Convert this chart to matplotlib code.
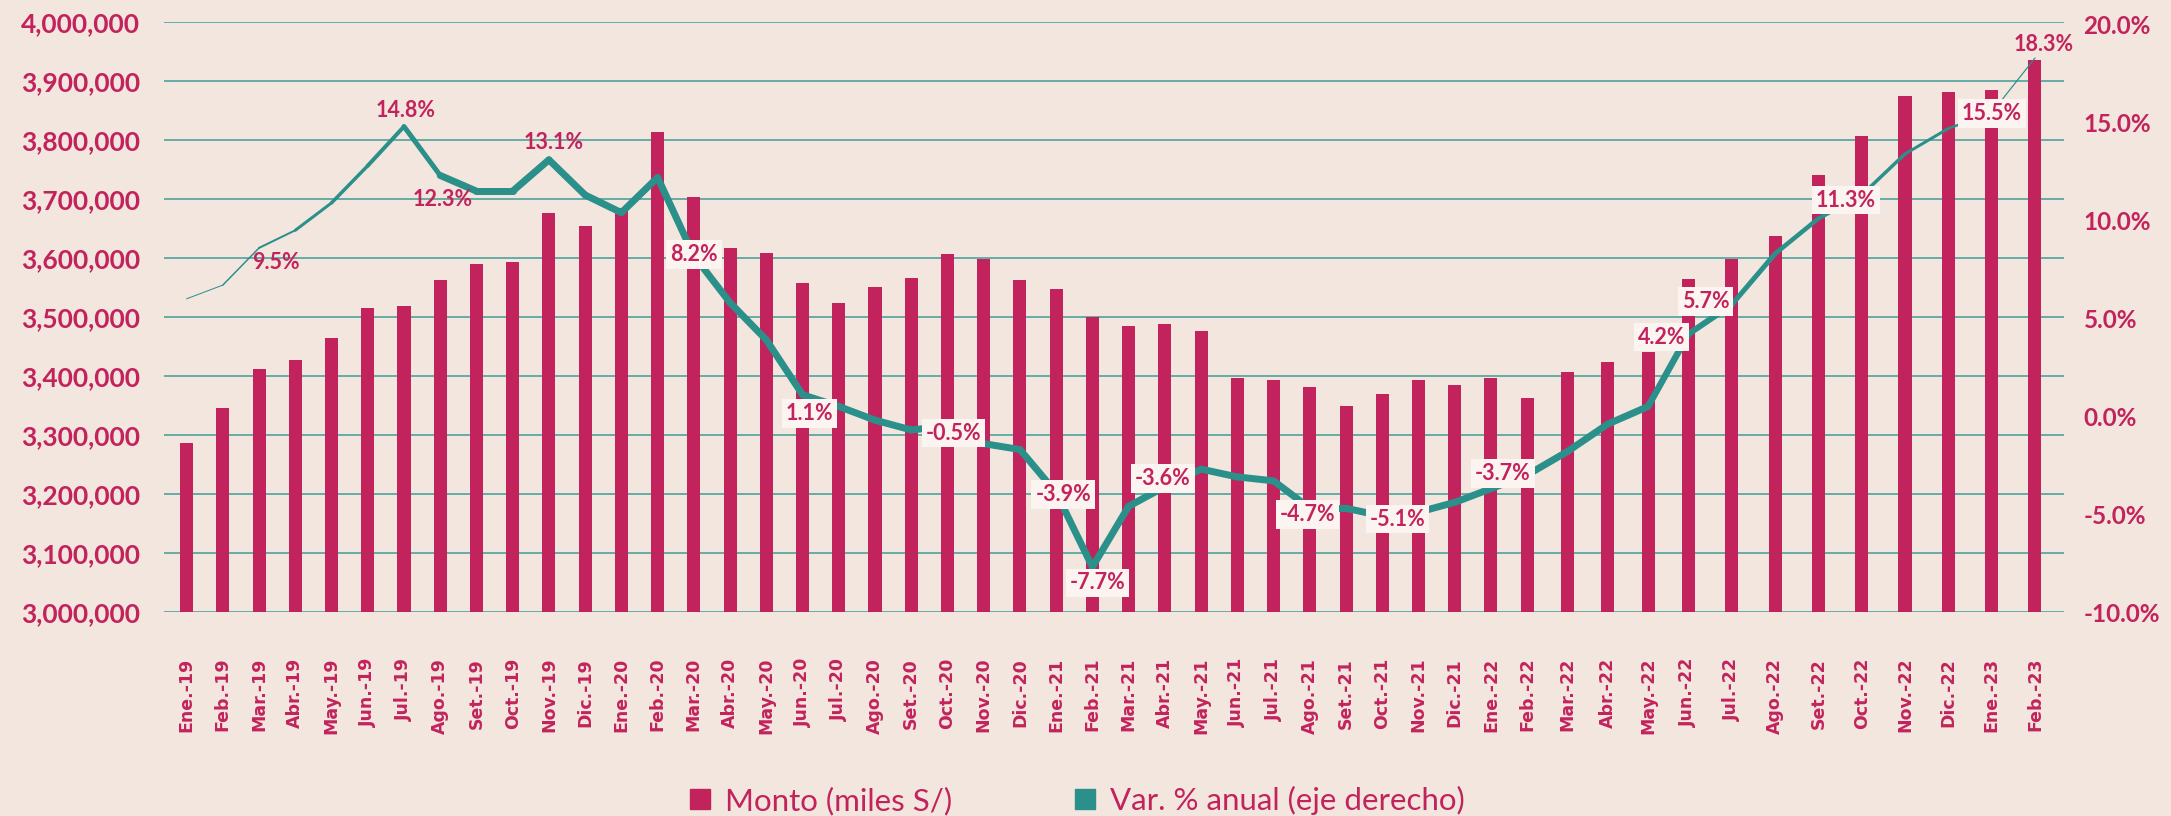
import numpy as np
import matplotlib
matplotlib.use("Agg")
import matplotlib.pyplot as plt
from matplotlib.collections import LineCollection
from matplotlib.lines import Line2D
from matplotlib.ticker import FuncFormatter, MultipleLocator

# Monthly amounts (thousands of soles) and annual % change
months = [
    "Ene.-19", "Feb.-19", "Mar.-19", "Abr.-19", "May.-19", "Jun.-19", "Jul.-19", "Ago.-19",
    "Set.-19", "Oct.-19", "Nov.-19", "Dic.-19", "Ene.-20", "Feb.-20", "Mar.-20", "Abr.-20",
    "May.-20", "Jun.-20", "Jul.-20", "Ago.-20", "Set.-20", "Oct.-20", "Nov.-20", "Dic.-20",
    "Ene.-21", "Feb.-21", "Mar.-21", "Abr.-21", "May.-21", "Jun.-21", "Jul.-21", "Ago.-21",
    "Set.-21", "Oct.-21", "Nov.-21", "Dic.-21", "Ene.-22", "Feb.-22", "Mar.-22", "Abr.-22",
    "May.-22", "Jun.-22", "Jul.-22", "Ago.-22", "Set.-22", "Oct.-22", "Nov.-22", "Dic.-22",
    "Ene.-23", "Feb.-23",
]
monto = [
    3287000, 3346000, 3412000, 3427000, 3464000, 3515000, 3519000, 3562000, 3590000, 3594000,
    3676000, 3655000, 3684000, 3814000, 3703000, 3617000, 3608000, 3558000, 3523000, 3551000,
    3566000, 3606000, 3598000, 3562000, 3547000, 3500000, 3484000, 3488000, 3476000, 3397000,
    3393000, 3381000, 3349000, 3369000, 3393000, 3385000, 3397000, 3363000, 3407000, 3423000,
    3440000, 3564000, 3598000, 3638000, 3740000, 3807000, 3875000, 3881000, 3885000, 3936000,
]
var_anual = [
    6.0, 6.7, 8.6, 9.5, 10.9, 12.8, 14.8, 12.3, 11.5, 11.5,
    13.1, 11.3, 10.4, 12.2, 8.2, 5.8, 3.9, 1.1, 0.5, -0.2,
    -0.7, -0.5, -1.4, -1.7, -3.9, -7.7, -4.6, -3.6, -2.7, -3.1,
    -3.3, -4.7, -4.7, -5.1, -4.9, -4.4, -3.7, -3.0, -1.8, -0.4,
    0.5, 4.2, 5.7, 8.3, 10.1, 11.3, 13.4, 14.7, 15.5, 18.3,
]
# months whose % change is written on the chart
labelled = [3, 6, 7, 10, 14, 17, 21, 24, 25, 27, 31, 33, 36, 41, 42, 45, 48, 49]

# label placement: (dx, dy) in pixels from the point, and whether it gets a box
label_pos = {
    3: (-19, -32, False), 6: (2, 16, False), 7: (2, -24, False), 10: (5, 17, False),
    14: (0, 1, True), 17: (7, -19, True), 21: (6, -7, True), 24: (7, -2, True),
    25: (5, -16, True), 27: (-2, 8, True), 31: (-2, -6, True), 33: (15, -3, True),
    36: (12, 15, True), 41: (-27, -3, True), 42: (-26, 3, True), 45: (-16, -5, True),
    48: (0, -1, True), 49: (9, 14, False),
}

BG = "#F3E6DE"
CRIMSON = "#C2235C"
TEAL = "#2B8F8A"
GRID = "#5AA8A2"
BOX = "#FBF4F0"

# the last year of months gets progressively wider slots
slot_idx = [-1.0, 37.0, 41.0, 50.0]
slot_pos = [0.0, 38.0, 42.45, 53.21]


def _warp(v, xp, fp):
    v = np.asarray(v, dtype=float)
    out = np.interp(v, xp, fp)
    lo_slope = (fp[1] - fp[0]) / (xp[1] - xp[0])
    hi_slope = (fp[-1] - fp[-2]) / (xp[-1] - xp[-2])
    out = np.where(v < xp[0], fp[0] + (v - xp[0]) * lo_slope, out)
    out = np.where(v > xp[-1], fp[-1] + (v - xp[-1]) * hi_slope, out)
    return out


def fwd(v):
    return _warp(v, slot_idx, slot_pos)


def inv(v):
    return _warp(v, slot_pos, slot_idx)


x = np.arange(len(months))

fig = plt.figure(figsize=(21.71, 8.16), dpi=100, facecolor=BG)
ax = fig.add_axes([0.07554, 0.25, 0.87517, 0.72304])
ax.set_facecolor(BG)
ax.set_xscale("function", functions=(fwd, inv))

# keep bars the same pixel width everywhere
slot = np.gradient(fwd(x))
ax.bar(x, monto, width=0.36 / slot, color=CRIMSON, zorder=3)

ax.set_xlim(-0.624, 49.67)
ax.set_ylim(3000000, 4000000)
ax.yaxis.set_major_locator(MultipleLocator(100000))
ax.yaxis.set_major_formatter(FuncFormatter(lambda v, p: f"{v:,.0f}"))
ax.grid(axis="y", color=GRID, linewidth=1.3)
ax.set_axisbelow(True)
ax.set_xticks(x)
ax.set_xticklabels(months, rotation=90, fontsize=12.5, fontweight="bold",
                   color=CRIMSON, family="DejaVu Sans")
ax.tick_params(axis="x", length=0, pad=33)
ax.tick_params(axis="y", length=0, pad=17, labelcolor=CRIMSON)
for lab in ax.get_yticklabels():
    lab.set_fontfamily("Lato")
    lab.set_fontweight("bold")
    lab.set_fontsize(19)
for s in ax.spines.values():
    s.set_visible(False)

# growth line on the right axis, tapered at both ends
ax2 = ax.twinx()
ax2.set_ylim(-10, 20.14)
ax2.yaxis.set_major_locator(MultipleLocator(5))
ax2.yaxis.set_major_formatter(FuncFormatter(lambda v, p: f"{v:.1f}%"))
ax2.tick_params(axis="y", length=0, pad=14, labelcolor=CRIMSON)
for lab in ax2.get_yticklabels():
    lab.set_fontfamily("Lato")
    lab.set_fontweight("bold")
    lab.set_fontsize(17.5)
for s in ax2.spines.values():
    s.set_visible(False)

pts = np.column_stack([x, var_anual])
segs = np.stack([pts[:-1], pts[1:]], axis=1)
seg_px = np.full(len(segs), 7.0)
seg_px[:7] = [1.0, 1.5, 2.0, 3.0, 3.5, 4.0, 5.0]
seg_px[40:] = [6.5, 6.0, 5.0, 4.5, 4.0, 3.5, 3.0, 2.5, 1.2]
lc = LineCollection(segs, linewidths=seg_px * 0.72, colors=TEAL, capstyle="round",
                    joinstyle="round", zorder=4)
ax2.add_collection(lc)

for i in labelled:
    dx, dy, boxed = label_pos[i]
    box = dict(boxstyle="square,pad=0.18", fc=BOX, ec="none") if boxed else None
    ax2.annotate(f"{var_anual[i]:.1f}%", (x[i], var_anual[i]), xytext=(dx, dy),
                 textcoords="offset pixels", ha="center", va="center",
                 fontsize=15.5, fontweight="bold", family="Lato",
                 color=CRIMSON, bbox=box, zorder=5)

handles = [
    Line2D([0], [0], marker="s", ls="none", markersize=14,
           markerfacecolor=CRIMSON, markeredgecolor=CRIMSON),
    Line2D([0], [0], marker="s", ls="none", markersize=14,
           markerfacecolor=TEAL, markeredgecolor=TEAL),
]
fig.legend(handles, ["Monto (miles S/)", "Var. % anual (eje derecho)"],
           loc="center", bbox_to_anchor=(0.496, 0.019), ncol=2, frameon=False,
           handlelength=0.7, handletextpad=0.45, columnspacing=3.9,
           prop={"family": "Lato", "size": 22.5}, labelcolor=CRIMSON)

fig.savefig("out.png", dpi=100, facecolor=BG)
